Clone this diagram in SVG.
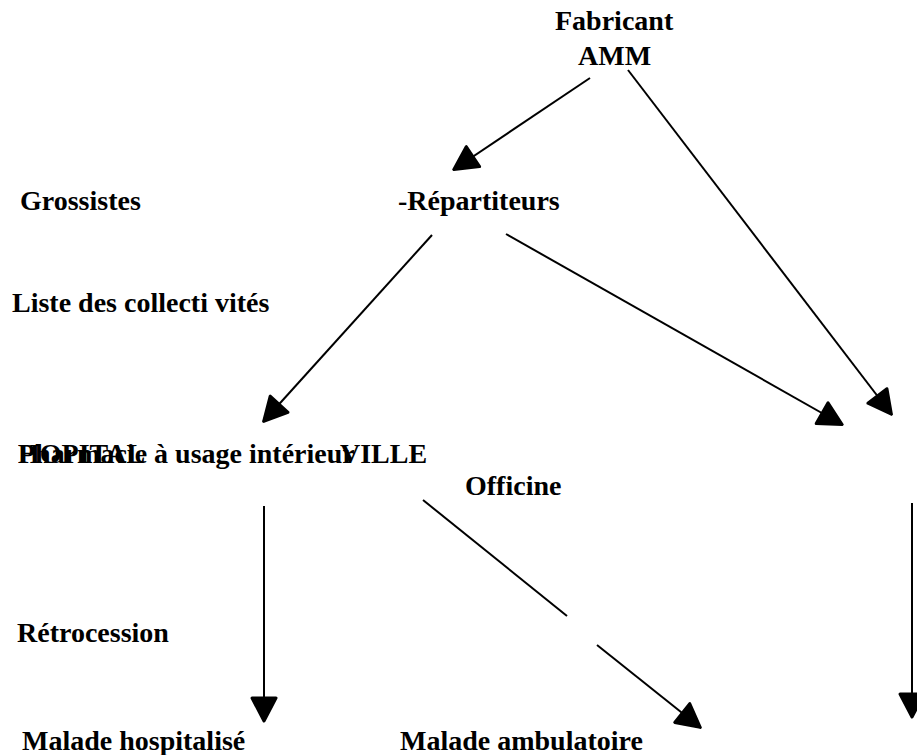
<svg xmlns="http://www.w3.org/2000/svg" width="917" height="755" viewBox="0 0 917 755">
<style>
text{font-family:"Liberation Serif","Times New Roman",serif;font-weight:bold;font-size:28px;fill:#000}
.c line{stroke:#000;stroke-width:2;fill:none}
</style>
<defs>
<marker id="ah" markerUnits="userSpaceOnUse" viewBox="-28 -16 30 32" refX="0" refY="0" markerWidth="30" markerHeight="32" orient="auto">
<path d="M-1,0 L-24,-12 L-24,12 Z" fill="#000" stroke="#000" stroke-width="3" stroke-linejoin="round"/>
</marker>
</defs>
<rect width="917" height="755" fill="#fff"/>
<g id="fabricant"><text x="555" y="30">Fabricant</text><text x="578" y="65">AMM</text></g>
<g id="grossistes"><text x="20" y="210">Grossistes</text></g>
<g id="repartiteurs"><text x="398" y="210">-Répartiteurs</text></g>
<g id="liste"><text x="12" y="312">Liste des collecti vités</text></g>
<g id="hopital"><text x="18" y="463">HOPITAL</text></g>
<g id="pui"><text x="18" y="463">Pharmacie à usage intérieur</text></g>
<g id="ville"><text x="340" y="463">VILLE</text></g>
<g id="officine"><text x="465" y="495">Officine</text></g>
<g id="retrocession"><text x="17" y="642">Rétrocession</text></g>
<g id="malade-hosp"><text x="22" y="750">Malade hospitalisé</text></g>
<g id="malade-amb"><text x="400" y="750">Malade ambulatoire</text></g>
<g id="connectors" class="c">
<line x1="590" y1="78" x2="453" y2="170" marker-end="url(#ah)"/>
<line x1="628" y1="70" x2="892" y2="415" marker-end="url(#ah)"/>
<line x1="432" y1="235" x2="263" y2="422" marker-end="url(#ah)"/>
<line x1="506" y1="234" x2="843" y2="425" marker-end="url(#ah)"/>
<line x1="264" y1="506" x2="264" y2="722" marker-end="url(#ah)"/>
<line x1="423" y1="500" x2="567" y2="616"/>
<line x1="597" y1="645" x2="701" y2="728" marker-end="url(#ah)"/>
<line x1="912" y1="503" x2="912" y2="718" marker-end="url(#ah)"/>
</g>
</svg>
